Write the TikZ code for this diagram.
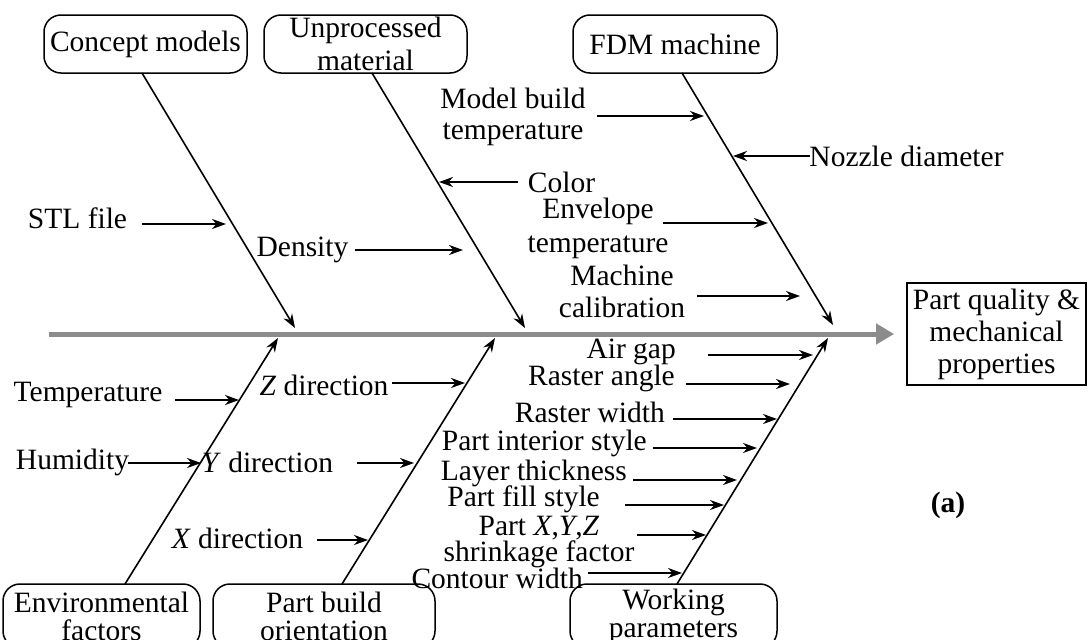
\documentclass[tikz,border=0pt]{standalone}
\usepackage{fontspec}
\setmainfont{Liberation Serif}
\usetikzlibrary{arrows.meta}
\definecolor{spinegray}{RGB}{140,140,140}
\begin{document}
\begin{tikzpicture}[x=1pt,y=-1pt,
  every node/.style={font=\fontsize{29.5}{32}\selectfont},
  lbl/.style={inner sep=0pt, align=center},
  cause/.style={draw, line width=1.5pt, rounded corners=17pt, minimum width=#1, minimum height=58pt, inner sep=0pt, align=center},
  bone/.style={line width=1.6pt, -{Stealth[length=14pt,width=10pt]}},
  harr/.style={line width=2pt, -{Stealth[length=14pt,width=10pt]}},
  spine/.style={line width=5pt, draw=spinegray, -{Triangle[length=18pt,width=20pt]}, shorten >=12pt},
  result/.style={draw, line width=1.8pt, minimum width=179pt, minimum height=102pt, inner sep=0pt, align=center}
]
\clip (0,0) rectangle (1088,640);
\fill[white] (0,0) rectangle (1088,640);

% category boxes
\node[cause=203pt] (cm) at (145.5,44) {Concept models};
\node[cause=203pt, font=\fontsize{29.5}{33}\selectfont] (um) at (365.5,44) {Unprocessed\\material};
\node[cause=204pt] (fdm) at (675,44) {FDM machine};
\node[cause=197pt, minimum height=64pt, font=\fontsize{29.5}{28}\selectfont] (ef) at (101.5,616) {Environmental\\factors};
\node[cause=222pt, minimum height=64pt, font=\fontsize{29.5}{28}\selectfont] (pbo) at (324,616) {Part build\\orientation};
\node[cause=207pt, minimum height=64pt, font=\fontsize{29.5}{28}\selectfont] (wp) at (673.5,616) {Working\\parameters};

% result
\node[result] (res) at (996.5,334) {Part quality \&\\mechanical\\properties};
\node[font=\bfseries\fontsize{29.5}{32}\selectfont] (lab) at (948,505) {(a)};

% spine
\coordinate (sp0) at (49,334);
\draw[spine] (sp0) -- (res.west);

% bones
\coordinate (cs1) at (142,73);  \coordinate (ct1) at (295,328);
\coordinate (cs2) at (372,73);  \coordinate (ct2) at (525,328);
\coordinate (cs3) at (682,73);  \coordinate (ct3) at (833,325);
\coordinate (bs1) at (125,584); \coordinate (bt1) at (278,338);
\coordinate (bs2) at (342,584); \coordinate (bt2) at (495,338);
\coordinate (bs3) at (677,584); \coordinate (bt3) at (828,338);
\draw[bone] (cs1) -- (ct1);
\draw[bone] (cs2) -- (ct2);
\draw[bone] (cs3) -- (ct3);
\draw[bone] (bs1) -- (bt1);
\draw[bone] (bs2) -- (bt2);
\draw[bone] (bs3) -- (bt3);

% labels top
\node[lbl] (stl) at (77.5,218) {STL file};
\node[lbl] (dens) at (302.5,250) {Density};
\node[lbl, font=\fontsize{29.5}{31}\selectfont] (mbt) at (513,117) {Model build\\temperature};
\node[lbl] (col) at (561.5,182) {Color};
\node[lbl] (noz) at (906.5,156) {Nozzle diameter};
\node[lbl, font=\fontsize{29.5}{34}\selectfont] (envt) at (598,228) {Envelope\\temperature};
\node[lbl] (mcal) at (622,291) {Machine\\calibration};

% labels bottom right
\node[lbl, anchor=east] (air) at (676,352) {Air gap};
\node[lbl, anchor=east] (rang) at (675,378) {Raster angle};
\node[lbl, anchor=east] (rwid) at (665,412) {Raster width};
\node[lbl, anchor=east] (pis) at (647,443) {Part interior style};
\node[lbl, anchor=east] (lt) at (627,473) {Layer thickness};
\node[lbl, anchor=east] (pfs) at (600,499) {Part fill style};
\node[lbl, font=\fontsize{29.5}{26}\selectfont] (xyz) at (539,542) {Part \textit{X},\textit{Y},\textit{Z}\\shrinkage factor};
\node[lbl, anchor=east] (cw) at (583,578) {Contour width};

% labels bottom left
\node[lbl] (temp) at (88,395) {Temperature};
\node[lbl] (zdir) at (324,385) {\textit{Z} direction};
\node[lbl] (hum) at (72.5,462) {Humidity};
\node[lbl] (ydir) at (267.5,462) {\textit{Y} direction};
\node[lbl] (xdir) at (237.5,538) {\textit{X} direction};

% small arrows
\coordinate (a1s) at (142,224); \coordinate (a1t) at (226,224);
\coordinate (a2s) at (355,250); \coordinate (a2t) at (463,250);
\coordinate (a3s) at (597,116); \coordinate (a3t) at (704,116);
\coordinate (a4s) at (518,182); \coordinate (a4t) at (439,182);
\coordinate (a5s) at (810,156); \coordinate (a5t) at (733,156);
\coordinate (a6s) at (663,223); \coordinate (a6t) at (768,223);
\coordinate (a7s) at (697,296); \coordinate (a7t) at (800,296);
\coordinate (b1s) at (708,355); \coordinate (b1t) at (813,355);
\coordinate (b2s) at (686,384); \coordinate (b2t) at (790,384);
\coordinate (b3s) at (673,419); \coordinate (b3t) at (777,419);
\coordinate (b4s) at (653,448); \coordinate (b4t) at (757,448);
\coordinate (b5s) at (633,480); \coordinate (b5t) at (737,480);
\coordinate (b6s) at (625,505); \coordinate (b6t) at (724,505);
\coordinate (b7s) at (637,535); \coordinate (b7t) at (706,535);
\coordinate (b8s) at (588,573); \coordinate (b8t) at (682,573);
\coordinate (c1s) at (175,400); \coordinate (c1t) at (239,400);
\coordinate (c2s) at (392,383); \coordinate (c2t) at (465,383);
\coordinate (c3s) at (128,463); \coordinate (c3t) at (201,463);
\coordinate (c4s) at (357,463); \coordinate (c4t) at (414,463);
\coordinate (c5s) at (317,540); \coordinate (c5t) at (368,540);
\foreach \p in {a1,a2,a3,a4,a5,a6,a7,b1,b2,b3,b4,b5,b6,b7,b8,c1,c2,c3,c4,c5}
  \draw[harr] (\p s) -- (\p t);
\end{tikzpicture}
\end{document}
